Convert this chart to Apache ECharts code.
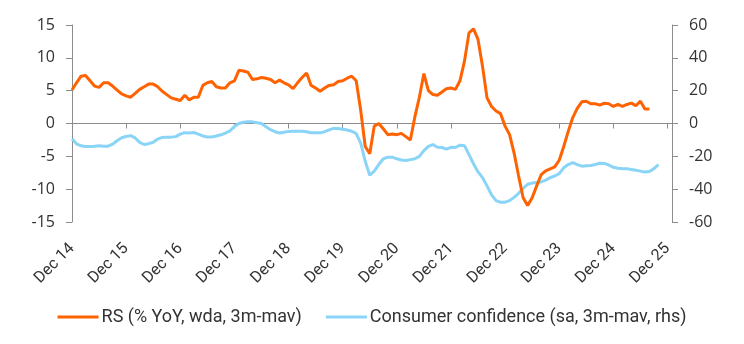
<!DOCTYPE html>
<html>
<head>
<meta charset="utf-8">
<script src="https://cdn.jsdelivr.net/npm/echarts@6/dist/echarts.min.js"></script>
<style>html,body{margin:0;padding:0;background:#fff}#c{width:744px;height:344px}</style>
</head>
<body>
<div id="c"></div>
<script>
// Month categories: Dec 2014 .. Jan 2026 (one per month)
const startYear = 2014, startMonth = 11, monthCount = 134;
const monthNames = ['Jan','Feb','Mar','Apr','May','Jun','Jul','Aug','Sep','Oct','Nov','Dec'];
const tickLabels = ['Dec 14','Dec 15','Dec 16','Dec 17','Dec 18','Dec 19','Dec 20','Dec 21','Dec 22','Dec 23','Dec 24','Dec 25'];

// RS (% YoY, wda, 3m-mav), left axis, monthly from Dec 14
const retailSales = [
 5.1, 6.2, 7.2, 7.3, 6.5, 5.7, 5.5, 6.2, 6.2, 5.7, 5.1, 4.5,
 4.2, 4.0, 4.6, 5.2, 5.6, 6.0, 6.0, 5.6, 4.9, 4.4, 3.9, 3.7,
 3.5, 4.3, 3.6, 4.0, 4.0, 5.8, 6.2, 6.4, 5.6, 5.4, 5.4, 6.2,
 6.5, 8.1, 8.0, 7.8, 6.7, 6.8, 7.0, 6.9, 6.7, 6.2, 6.6, 6.2,
 5.9, 5.3, 6.2, 7.0, 7.7, 5.8, 5.4, 4.9, 5.4, 5.8, 5.9, 6.4,
 6.5, 6.9, 7.2, 6.5, 2.0, -3.5, -4.6, -0.4, 0.0, -0.8, -1.7, -1.6,
 -1.7, -1.5, -2.0, -2.5, 1.0, 4.0, 7.6, 5.0, 4.4, 4.3, 4.8, 5.3,
 5.4, 5.2, 6.5, 9.5, 13.8, 14.4, 12.8, 8.7, 3.9, 2.6, 1.9, 1.5,
 -0.4, -1.7, -4.5, -8.0, -11.3, -12.5, -11.3, -9.5, -7.8, -7.2, -6.9, -6.6,
 -5.6, -3.5, -1.2, 0.9, 2.3, 3.3, 3.4, 3.0, 3.0, 2.8, 3.1, 3.0,
 2.6, 2.9, 2.6, 2.9, 3.1, 2.7, 3.4, 2.2, 2.2
];

// Consumer confidence (sa, 3m-mav), right axis, monthly from Dec 14
const consumerConfidence = [
 -9.3, -12.4, -13.6, -14.0, -14.0, -13.8, -13.5, -13.8, -13.8, -12.6, -10.5, -8.7,
 -7.9, -7.4, -8.8, -11.5, -12.8, -12.3, -11.4, -9.5, -8.5, -8.3, -8.3, -8.0,
 -6.5, -5.6, -5.8, -5.5, -6.5, -7.6, -8.2, -8.2, -7.6, -6.9, -5.8, -4.5,
 -1.8, 0.0, 0.8, 1.0, 1.0, 0.5, 0.0, -2.0, -3.8, -5.0, -5.8, -5.3,
 -4.8, -4.7, -4.7, -4.7, -5.0, -5.6, -5.7, -5.7, -5.0, -3.9, -3.0, -3.1,
 -3.5, -4.0, -4.7, -6.2, -12.0, -23.0, -31.5, -29.0, -25.0, -21.5, -20.5, -20.5,
 -21.5, -22.2, -22.5, -22.0, -21.5, -20.0, -16.5, -14.0, -12.8, -14.5, -14.6, -15.6,
 -14.5, -14.6, -13.2, -13.5, -19.0, -24.5, -29.5, -33.0, -38.0, -43.5, -47.0, -48.0,
 -47.9, -47.0, -45.0, -42.5, -39.5, -37.0, -36.3, -36.0, -35.6, -34.5, -33.0, -32.0,
 -30.5, -27.0, -25.0, -23.8, -25.0, -26.0, -25.8, -25.6, -25.0, -24.2, -24.3, -25.3,
 -26.7, -27.3, -27.6, -27.6, -28.0, -28.5, -29.0, -29.6, -29.2, -27.5, -25.0
];

const categories = [];
for (let i = 0; i < monthCount; i++) {
  const t = startMonth + i;
  const y = startYear + Math.floor(t / 12);
  categories.push(monthNames[t % 12] + ' ' + String(y).slice(2));
}
const isTick = (idx) => idx % 12 === 0;

const axisGray = '#8c8c8c';
const textColor = '#333333';

const chart = echarts.init(document.getElementById('c'), null, {renderer: 'canvas'});
chart.setOption({
  animation: false,
  backgroundColor: '#ffffff',
  grid: {left: 72, right: 72, top: 25, bottom: 122, containLabel: false},
  legend: {
    left: 'center', top: 303,
    itemWidth: 41, itemHeight: 3, itemGap: 24,
    icon: 'rect',
    textStyle: {fontFamily: 'Roboto, sans-serif', fontSize: 18, color: textColor, padding: [0,0,0,-2]},
    data: ['RS (% YoY, wda, 3m-mav)', 'Consumer confidence (sa, 3m-mav, rhs)']
  },
  xAxis: [{
    type: 'category', data: categories, boundaryGap: false,
    axisLine: {onZero: true, onZeroAxisIndex: 0, lineStyle: {color: axisGray, width: 1}},
    axisTick: {show: true, interval: (i) => isTick(i), length: 5, lineStyle: {color: axisGray}},
    axisLabel: {show: false},
    splitLine: {show: false}
  }, {
    type: 'category', data: categories, boundaryGap: false, position: 'bottom',
    axisLine: {show: false, onZero: false},
    axisTick: {show: false},
    axisLabel: {
      show: true, interval: (i) => isTick(i), rotate: 45, margin: 24,
      formatter: (v, i) => tickLabels[Math.floor(i / 12)] || '',
      fontFamily: 'Roboto, sans-serif', fontSize: 16, color: textColor
    },
    splitLine: {show: false}
  }],
  yAxis: [{
    type: 'value', min: -15, max: 15, interval: 5, position: 'left',
    axisLine: {show: true, lineStyle: {color: axisGray}},
    axisTick: {show: true, length: 6, lineStyle: {color: axisGray}},
    axisLabel: {margin: 17, fontFamily: 'Open Sans, sans-serif', fontSize: 16, color: textColor},
    splitLine: {show: false}
  }, {
    type: 'value', min: -60, max: 60, interval: 20, position: 'right',
    axisLine: {show: true, lineStyle: {color: axisGray}},
    axisTick: {show: true, length: 6, lineStyle: {color: axisGray}},
    axisLabel: {margin: 17, fontFamily: 'Open Sans, sans-serif', fontSize: 16, color: textColor},
    splitLine: {show: false}
  }],
  series: [{
    name: 'RS (% YoY, wda, 3m-mav)', type: 'line', xAxisIndex: 0, yAxisIndex: 0,
    data: retailSales, symbol: 'none', z: 3,
    lineStyle: {color: '#FF6200', width: 3}, itemStyle: {color: '#FF6200'}
  }, {
    name: 'Consumer confidence (sa, 3m-mav, rhs)', type: 'line', xAxisIndex: 0, yAxisIndex: 1,
    data: consumerConfidence, symbol: 'none', z: 2,
    lineStyle: {color: '#89D4F7', width: 3}, itemStyle: {color: '#89D4F7'}
  }]
});
</script>
</body>
</html>
